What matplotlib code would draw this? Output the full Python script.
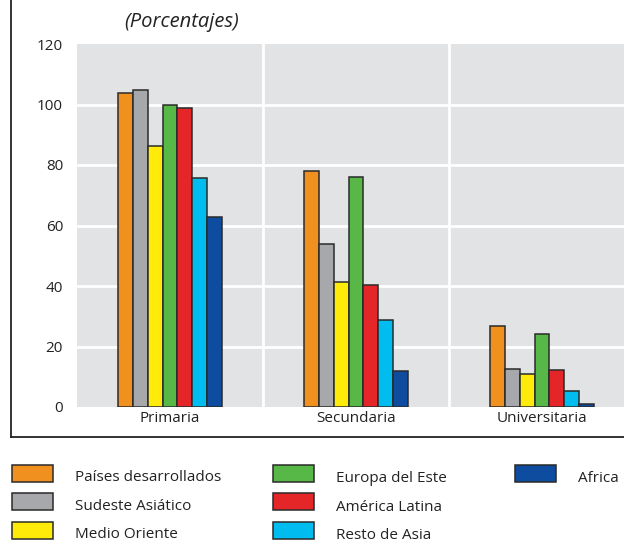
import matplotlib
matplotlib.use("Agg")
import matplotlib.pyplot as plt
import numpy as np
from matplotlib.patches import Rectangle
from matplotlib.lines import Line2D

plt.rcParams['font.family'] = ['Open Sans', 'DejaVu Sans']

categories = ["Primaria", "Secundaria", "Universitaria"]
series_names = ["Países desarrollados", "Sudeste Asiático", "Medio Oriente",
                "Europa del Este", "América Latina", "Resto de Asia", "Africa"]
colors = ["#F0901E", "#A7A8AB", "#FFEB0A", "#57B847", "#E52628", "#00BCEF", "#0D4C9E"]
paises_desarrollados = [103.8, 78.0, 26.9]
sudeste_asiatico = [104.7, 54.0, 12.5]
medio_oriente = [86.4, 41.2, 11.0]
europa_del_este = [99.9, 76.1, 24.1]
america_latina = [98.9, 40.4, 12.2]
resto_de_asia = [75.8, 28.9, 5.2]
africa = [62.9, 11.9, 1.0]
series = [paises_desarrollados, sudeste_asiatico, medio_oriente, europa_del_este,
          america_latina, resto_de_asia, africa]
yticks = [0, 20, 40, 60, 80, 100, 120]

W, H = 624, 544
fig = plt.figure(figsize=(W / 100, H / 100), dpi=100)
ax = fig.add_axes([77 / W, 1 - 407 / H, 558 / W, 363 / H])
ax.set_facecolor("#E2E3E5")

x = np.arange(len(categories))
bw = 0.08
n = len(series)
for i, (vals, c) in enumerate(zip(series, colors)):
    ax.bar(x + (i - (n - 1) / 2) * bw, vals, width=bw, color=c,
           edgecolor="#2a2a2a", linewidth=1.1, zorder=3)

ax.set_xlim(-0.5, 2.5)
ax.set_ylim(0, 120)
ax.set_yticks(yticks)
ax.set_xticks(x)
ax.set_xticklabels(categories, fontsize=11, color="#222222")
ax.tick_params(axis="y", length=0, pad=10, labelsize=11, labelcolor="#222222")
ax.tick_params(axis="x", length=0, pad=3)
for t in yticks[1:-1]:
    ax.axhline(t, color="white", linewidth=2, zorder=1)
for v in [0.5, 1.5]:
    ax.axvline(v, color="white", linewidth=2, zorder=1)
for s in ax.spines.values():
    s.set_visible(False)

fig.text(181.5 / W, 1 - 22 / H, "(Porcentajes)", style="italic", fontsize=14.5,
         ha="center", va="center", color="#222222")

# frame lines
fig.add_artist(Line2D([11 / W, 11 / W], [1.0, 1 - 437 / H], color="#222222", linewidth=1.3))
fig.add_artist(Line2D([11 / W, 1.0], [1 - 437 / H, 1 - 437 / H], color="#222222", linewidth=1.3))

# legend
col_x = [12, 273, 515]
row_y = [465, 493, 522]
row_base = [481, 510, 538]
order = [(0, 0), (0, 1), (0, 2), (1, 0), (1, 1), (1, 2), (2, 0)]
for (col, row), name, c in zip(order, series_names, colors):
    px, py = col_x[col], row_y[row]
    fig.add_artist(Rectangle((px / W, 1 - (py + 17) / H), 41 / W, 17 / H,
                             facecolor=c, edgecolor="#2a2a2a", linewidth=1.1,
                             transform=fig.transFigure))
    fig.text((px + 63) / W, 1 - (row_base[row] + (1 if col else 0)) / H, name,
             fontsize=11, ha="left", va="baseline", color="#222222")

fig.savefig("out.png", dpi=100)
